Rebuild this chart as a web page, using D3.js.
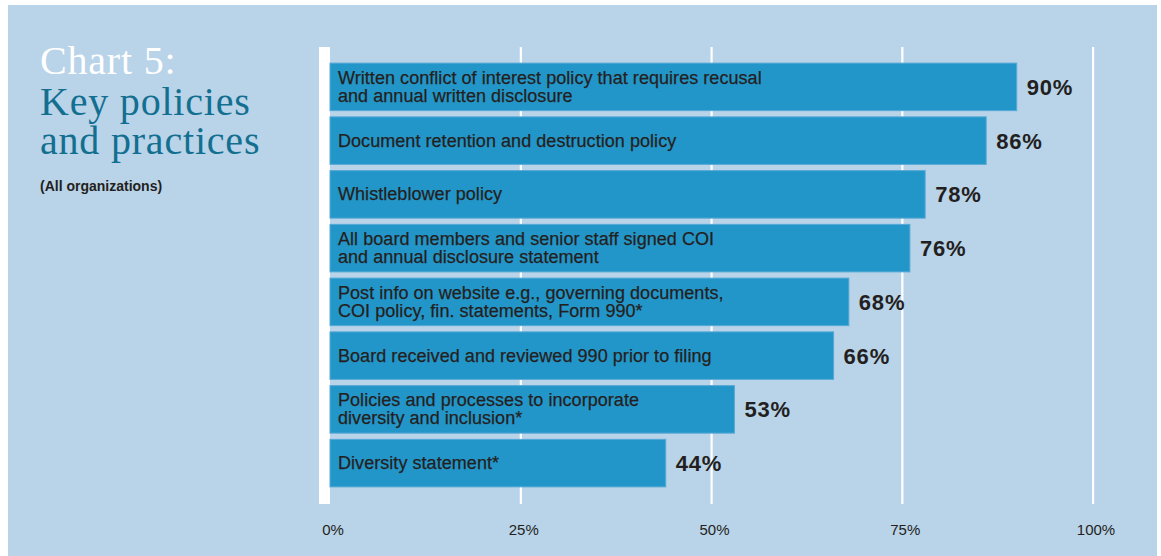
<!DOCTYPE html>
<html>
<head>
<meta charset="utf-8">
<script src="https://cdn.jsdelivr.net/npm/d3@7"></script>
<style>
  html, body { margin: 0; padding: 0; background: #ffffff; }
  svg { display: block; }
</style>
</head>
<body>
<svg id="chart" width="1161" height="556"></svg>
<script>
// Policy categories (line breaks mark the two-line labels)
const categories = [
  "Written conflict of interest policy that requires recusal\nand annual written disclosure",
  "Document retention and destruction policy",
  "Whistleblower policy",
  "All board members and senior staff signed COI\nand annual disclosure statement",
  "Post info on website e.g., governing documents,\nCOI policy, fin. statements, Form 990*",
  "Board received and reviewed 990 prior to filing",
  "Policies and processes to incorporate\ndiversity and inclusion*",
  "Diversity statement*"
];
// Share of organizations with each policy (%)
const values = [90, 86, 78, 76, 68, 66, 53, 44];
// Axis ticks
const tickValues = [0, 25, 50, 75, 100];
const tickLabels = ["0%", "25%", "50%", "75%", "100%"];

const svg = d3.select("#chart");

// Panel background
svg.append("rect")
  .attr("x", 8).attr("y", 5)
  .attr("width", 1149).attr("height", 551)
  .attr("fill", "#b9d3e9");

// Title block
const title = svg.append("g")
  .attr("font-family", "'Liberation Serif', 'Times New Roman', serif")
  .attr("font-size", 40)
  .attr("letter-spacing", "0.8px");
title.append("text").attr("x", 40).attr("y", 74).attr("fill", "#ffffff").text("Chart 5:");
title.append("text").attr("x", 40).attr("y", 115).attr("fill", "#136f90").text("Key policies");
title.append("text").attr("x", 40).attr("y", 154).attr("fill", "#136f90").text("and practices");
svg.append("text")
  .attr("x", 40).attr("y", 191)
  .attr("font-family", "'Liberation Sans', Arial, sans-serif")
  .attr("font-size", 14).attr("font-weight", "bold")
  .attr("fill", "#231f20")
  .text("(All organizations)");

// Scales
const x = d3.scaleLinear().domain([0, 100]).range([330, 1093]);
const y = d3.scaleBand()
  .domain(categories)
  .range([60, 490])
  .paddingInner(0.116)
  .paddingOuter(0.058);

const gridTop = 47, gridBottom = 504;

// Vertical grid lines (behind bars); the zero line is a thick white rule
const grid = svg.append("g");
grid.selectAll("rect")
  .data(tickValues)
  .join("rect")
  .attr("x", d => d === 0 ? x(d) - 11 : x(d) - 1)
  .attr("width", d => d === 0 ? 11 : 2.2)
  .attr("y", gridTop)
  .attr("height", gridBottom - gridTop)
  .attr("fill", "#ffffff");

// Bars
svg.append("g")
  .selectAll("rect")
  .data(values)
  .join("rect")
  .attr("x", x(0))
  .attr("y", (d, i) => y(categories[i]))
  .attr("width", d => x(d) - x(0))
  .attr("height", y.bandwidth())
  .attr("fill", "#2396c9")
  .attr("stroke", "#55a9d6")
  .attr("stroke-width", 1);

// Category labels inside the bars
const lineH = 18;
const labels = svg.append("g")
  .attr("font-family", "'Liberation Sans', Arial, sans-serif")
  .attr("font-size", 18)
  .attr("letter-spacing", "0.05px")
  .attr("fill", "#231f20")
  .attr("stroke", "#231f20")
  .attr("stroke-width", 0.25);
categories.forEach(c => {
  const lines = c.split("\n");
  const cy = y(c) + y.bandwidth() / 2;
  const first = cy - (lines.length - 1) * lineH / 2 + 6;
  const t = labels.append("text").attr("x", x(0) + 8);
  lines.forEach((ln, k) => {
    t.append("tspan")
      .attr("x", x(0) + 8)
      .attr("y", first + k * lineH)
      .text(ln);
  });
});

// Value labels at bar ends
svg.append("g")
  .attr("font-family", "'Liberation Sans', Arial, sans-serif")
  .attr("font-size", 22).attr("font-weight", "bold")
  .attr("letter-spacing", "0.8px")
  .attr("fill", "#231f20")
  .selectAll("text")
  .data(values)
  .join("text")
  .attr("x", d => x(d) + 10)
  .attr("y", (d, i) => y(categories[i]) + y.bandwidth() / 2 + 8)
  .text(d => d + "%");

// Axis labels
svg.append("g")
  .attr("font-family", "'Liberation Sans', Arial, sans-serif")
  .attr("font-size", 15)
  .attr("fill", "#231f20")
  .attr("text-anchor", "middle")
  .selectAll("text")
  .data(tickValues)
  .join("text")
  .attr("x", d => x(d) + 3)
  .attr("y", 535)
  .text((d, i) => tickLabels[i]);
</script>
</body>
</html>
